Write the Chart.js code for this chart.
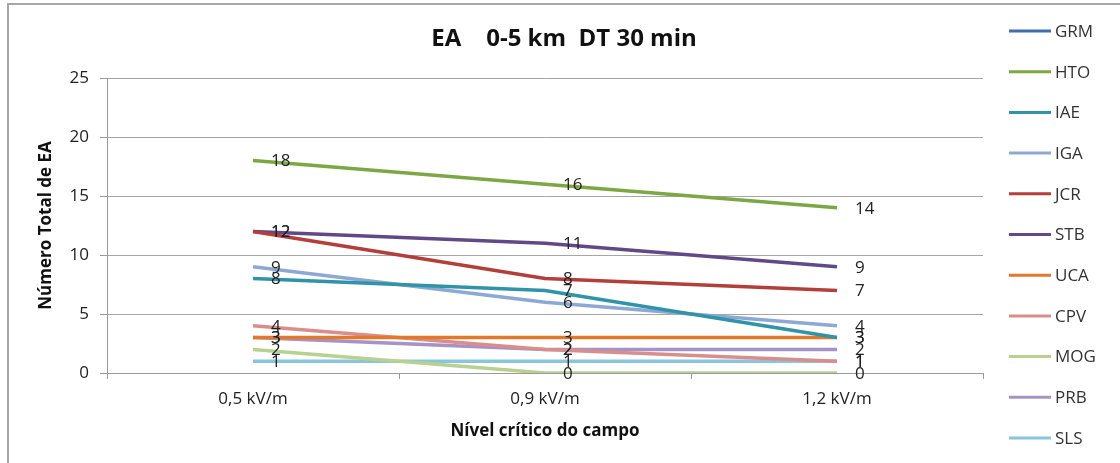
<!DOCTYPE html>
<html>
<head>
<meta charset="utf-8">
<script src="https://cdn.jsdelivr.net/npm/chart.js@4/dist/chart.umd.min.js"></script>
<style>
    html, body { margin: 0; padding: 0; background: #fff; }
    #wrap { width: 1120px; height: 463px; position: relative; }
</style>
</head>
<body>
<div id="wrap"><canvas id="ea-chart" width="1120" height="463"></canvas></div>
<script>
// Categories (x axis)
const niveis = ['0,5 kV/m', '0,9 kV/m', '1,2 kV/m'];

// Series values
const grm = [null, null, null];
const hto = [18, 16, 14];
const iae = [8, 7, 3];
const iga = [9, 6, 4];
const jcr = [12, 8, 7];
const stb = [12, 11, 9];
const uca = [3, 3, 3];
const cpv = [4, 2, 1];
const mog = [2, 0, 0];
const prb = [3, 2, 2];
const sls = [1, 1, 1];

const seriesNames = ['GRM', 'HTO', 'IAE', 'IGA', 'JCR', 'STB', 'UCA', 'CPV', 'MOG', 'PRB', 'SLS'];
const seriesData = [grm, hto, iae, iga, jcr, stb, uca, cpv, mog, prb, sls];
const seriesColors = ['#3F6EA9', '#7DA645', '#3093A8', '#8EA8D4', '#B33E3B',
                      '#614886', '#E3782B', '#D98E8D', '#B8D191', '#A693C6', '#8AC6DB'];

const yTicks = [0, 5, 10, 15, 20, 25];

const FONT = "'Open Sans', sans-serif";

// Frame, title and legend drawn on the canvas
const decorPlugin = {
    id: 'decor',
    beforeDraw(chart) {
        const ctx = chart.ctx;
        ctx.save();
        ctx.fillStyle = '#fff';
        ctx.fillRect(0, 0, chart.width, chart.height);
        ctx.strokeStyle = '#A6A6A6';
        ctx.lineWidth = 2;
        ctx.beginPath();
        ctx.moveTo(8, chart.height);
        ctx.lineTo(8, 4);
        ctx.lineTo(chart.width, 4);
        ctx.stroke();
        ctx.restore();
    },
    afterDraw(chart) {
        const ctx = chart.ctx;
        ctx.save();
        ctx.fillStyle = '#111';
        ctx.font = 'bold 24px ' + FONT;
        ctx.textAlign = 'center';
        ctx.textBaseline = 'middle';
        ctx.fillText('EA    0-5 km  DT 30 min', 564, 39);

        // legend
        ctx.font = '17px ' + FONT;
        ctx.textAlign = 'left';
        ctx.fillStyle = '#333';
        seriesNames.forEach((name, i) => {
            const y = 31 + i * 40.7;
            ctx.strokeStyle = seriesColors[i];
            ctx.lineWidth = 3;
            ctx.beginPath();
            ctx.moveTo(1009, y);
            ctx.lineTo(1051, y);
            ctx.stroke();
            ctx.fillText(name, 1055, y + 1);
        });
        ctx.restore();
    }
};

// Value labels to the right of each point
const valueLabels = {
    id: 'valueLabels',
    afterDatasetsDraw(chart) {
        const ctx = chart.ctx;
        ctx.save();
        ctx.font = '17px ' + FONT;
        ctx.fillStyle = '#222';
        ctx.textAlign = 'left';
        ctx.textBaseline = 'middle';
        chart.data.datasets.forEach((ds, i) => {
            const meta = chart.getDatasetMeta(i);
            meta.data.forEach((pt, j) => {
                const v = ds.data[j];
                if (v === null || v === undefined) return;
                ctx.fillText(String(v), pt.x + 18, pt.y + 1);
            });
        });
        ctx.restore();
    }
};

const ctx = document.getElementById('ea-chart').getContext('2d');
const eaChart = new Chart(ctx, {
    type: 'line',
    data: {
        labels: niveis,
        datasets: seriesNames.map((name, i) => ({
            label: name,
            data: seriesData[i],
            borderColor: seriesColors[i],
            backgroundColor: seriesColors[i],
            borderWidth: 3.5,
            pointRadius: 0,
            tension: 0,
            fill: false
        }))
    },
    options: {
        responsive: false,
        animation: false,
        layout: {
            padding: { top: 78, right: 137, left: 0, bottom: 0 }
        },
        plugins: {
            legend: { display: false },
            title: { display: false },
            tooltip: { enabled: false }
        },
        scales: {
            x: {
                type: 'category',
                offset: true,
                grid: {
                    offset: true,
                    drawOnChartArea: false,
                    drawTicks: true,
                    tickLength: 6,
                    tickColor: '#9A9A9A'
                },
                border: { color: '#9A9A9A', width: 1 },
                ticks: {
                    color: '#222',
                    font: { family: FONT, size: 17 },
                    padding: 10
                },
                title: {
                    display: true,
                    text: 'Nível crítico do campo',
                    color: '#111',
                    font: { family: FONT, size: 17, weight: 'bold' },
                    padding: { top: 0, bottom: 22 }
                },
                afterFit(scale) { scale.height = 90; }
            },
            y: {
                min: 0,
                max: 25,
                afterBuildTicks(scale) {
                    scale.ticks = yTicks.map(v => ({ value: v }));
                },
                grid: {
                    color: '#A6A6A6',
                    tickLength: 7,
                    tickColor: '#9A9A9A'
                },
                border: { color: '#9A9A9A', width: 1 },
                ticks: {
                    color: '#222',
                    font: { family: FONT, size: 17 },
                    padding: 11
                },
                title: {
                    display: true,
                    text: 'Número Total de EA',
                    color: '#111',
                    font: { family: FONT, size: 17, weight: 'bold' },
                    padding: { top: 36, bottom: 0 }
                },
                afterFit(scale) { scale.width = 107; }
            }
        }
    },
    plugins: [decorPlugin, valueLabels]
});
</script>
</body>
</html>
